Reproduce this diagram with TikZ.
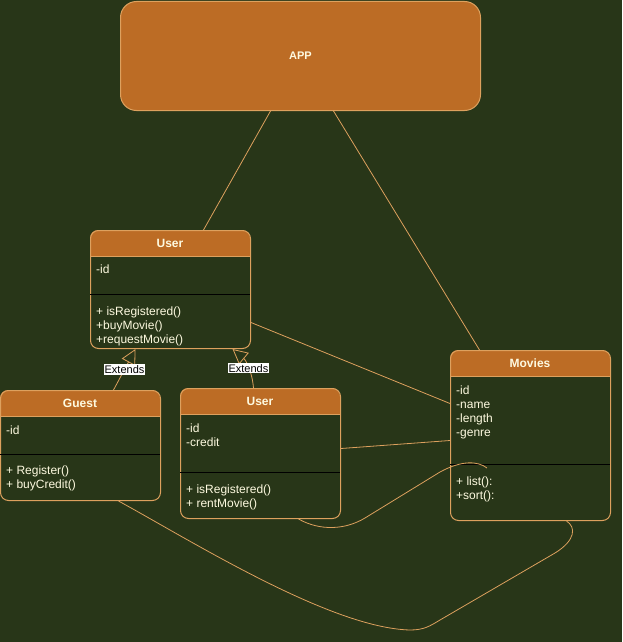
\documentclass[tikz,border=0pt]{standalone}
\usepackage{fontspec}
\setmainfont{Liberation Sans}
\usepackage{tikz}
\usetikzlibrary{arrows.meta}

\definecolor{bgcol}{HTML}{283618}
\definecolor{headcol}{HTML}{BC6C25}
\definecolor{linecol}{HTML}{DDA15E}
\definecolor{textcol}{HTML}{FEFAE0}

\tikzset{
    classbox/.style={draw=linecol, line width=1pt, rounded corners=8pt, anchor=north west, inner sep=0pt},
    classtitle/.style={text=textcol, font=\fontsize{12}{14}\selectfont\bfseries},
    member/.style={text=textcol, font=\fontsize{12}{14}\selectfont, anchor=base west, inner sep=0pt},
    wire/.style={draw=linecol, line width=0.8pt},
    extlabel/.style={fill=white, text=black, font=\fontsize{11}{13}\selectfont, inner sep=1pt},
    extends/.style={wire, -{Triangle[open, length=15pt, width=15pt, fill=bgcol]}}
}

% class box: name, x, y, width, height, title
\newcommand{\umlclass}[6]{
    \fill[headcol, rounded corners=8pt] (#2,#3) rectangle (#2+#4,#3+26);
    \fill[headcol] (#2,#3+16) rectangle (#2+#4,#3+26);
    \node[classbox, minimum width=#4pt, minimum height=#5pt] (#1) at (#2,#3) {};
    \draw[linecol, line width=1pt] (#2,#3+26) -- (#2+#4,#3+26);
    \node[classtitle] (#1-title) at (#2+#4/2,#3+13) {#6};
}

% members: name, x, first baseline, list
\newcommand{\members}[4]{
    \foreach \t [count=\i] in {#4}
        \node[member] (#1-\i) at (#2+6,#3+14*\i-14) {\t};
}

\begin{document}
\begin{tikzpicture}[x=1pt, y=-1pt]
    % Background
    \fill[bgcol] (0,0) rectangle (622,642);
    \useasboundingbox (0,0) rectangle (622,642);

    % App box
    \node[draw=linecol, fill=headcol, line width=1pt, rounded corners=16pt, anchor=north west,
          minimum width=360pt, minimum height=109pt, inner sep=0pt, text=textcol,
          font=\fontsize{11}{13}\selectfont\bfseries] (app) at (120,1) {APP};

    % Classes
    \umlclass{user}{90}{230}{160}{118}{User}
    \draw[black, line width=1pt] (90,294) -- (250,294);
    \members{userA}{90}{273}{-id}
    \members{userM}{90}{315}{+ isRegistered(), +buyMovie(), +requestMovie()}

    \umlclass{guest}{0}{390}{160}{110}{Guest}
    \draw[black, line width=1pt] (0,454) -- (160,454);
    \members{guestA}{0}{434}{-id}
    \members{guestM}{0}{474}{+ Register(), + buyCredit()}

    \umlclass{member}{180}{388}{160}{130}{User}
    \draw[black, line width=1pt] (180,472) -- (340,472);
    \members{memberA}{180}{432}{-id, -credit}
    \members{memberM}{180}{493}{+ isRegistered(), + rentMovie()}

    \umlclass{movies}{450}{350}{160}{170}{Movies}
    \draw[black, line width=1pt] (450,464) -- (610,464);
    \members{moviesA}{450}{394}{-id, -name, -length, -genre}
    \members{moviesM}{450}{485}{+ list():, +sort():}

    % Associations
    \draw[wire] ([xshift=-30pt]app.south) -- ([xshift=33pt]user.north);
    \draw[wire] ([xshift=33pt]app.south) -- ([xshift=-51pt]movies.north);
    \draw[wire] ([yshift=-33pt]user.east) -- ([yshift=32pt]movies.west);
    \draw[wire] ([yshift=5pt]member.east) -- ([yshift=-5pt]movies.west);

    % Generalisations
    \draw[extends] ([xshift=33pt]guest.north) -- node[extlabel] (ext1) {Extends} ([xshift=-35pt]user.south);
    \draw[extends] ([xshift=-7pt]member.north) to[out=95, in=-40] node[extlabel, pos=0.45] (ext2) {Extends} ([xshift=62pt]user.south);

    % Loose curves
    \coordinate (hook) at (487,468);
    \draw[wire] ([xshift=38pt]member.south) .. controls (320,531) and (345,530) .. (365,518)
        -- (440,472) .. controls (462,460) and (478,461) .. (hook);
    \draw[wire] ([xshift=38pt]guest.south) .. controls (190,540) and (330,628) .. (410,630)
        .. controls (424,630) and (430,626) .. (440,620) -- (555,553)
        .. controls (576,540) and (576,527) .. ([xshift=36pt]movies.south);
\end{tikzpicture}
\end{document}
